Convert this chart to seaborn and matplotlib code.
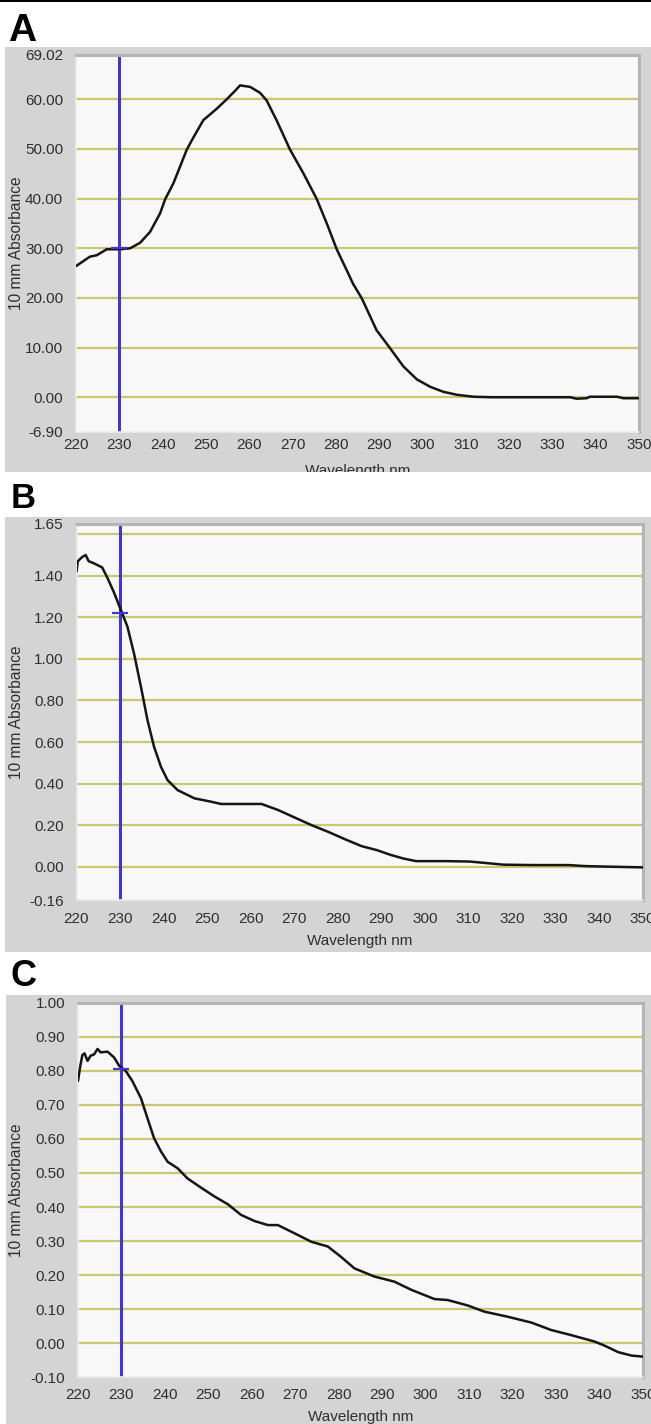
"""Three stacked UV absorbance spectra (panels A, B, C) with a cursor at 230 nm."""

import matplotlib
matplotlib.use("Agg")
import matplotlib.pyplot as plt
from matplotlib.patches import Rectangle
import pandas as pd
import seaborn as sns

W, H = 651, 1424

# ---- data ----
wavelength_a = [220, 221.5, 223.2, 224.8, 227.1, 230.2, 232.5, 234.8, 237.1, 239.4, 240.6,
                242.5, 245.6, 247.1, 249.4, 252.5, 254.8, 256.5, 257.9, 260.2, 262.5, 264.0,
                266.3, 269.4, 272.5, 275.6, 278.0, 280.2, 282.5, 284.0, 286.0, 289.4, 292.5,
                295.6, 298.7, 301.8, 304.8, 307.9, 311.8, 316.0, 324.8, 334.1, 335.6, 337.9,
                338.7, 344.9, 346.4, 350]
absorbance_a = [26.4, 27.3, 28.3, 28.6, 29.8, 29.8, 30.0, 31.1, 33.3, 37.0, 39.9,
                43.1, 49.9, 52.3, 55.8, 58.1, 60.0, 61.5, 62.8, 62.5, 61.3, 59.8,
                55.8, 49.9, 45.1, 39.9, 34.8, 29.8, 25.6, 22.8, 19.9, 13.5, 9.9,
                6.2, 3.6, 2.1, 1.1, 0.5, 0.1, 0.0, 0.0, 0.0, -0.3, -0.2,
                0.1, 0.1, -0.2, -0.2]

wavelength_b = [220, 220.3, 221.3, 222.1, 222.8, 224.0, 225.9, 227.1, 228.6, 230.2, 231.7,
                233.2, 234.8, 236.3, 237.8, 239.4, 240.9, 243.2, 247.1, 250.9, 253.2, 258.6,
                262.5, 266.3, 270.2, 274.0, 277.8, 281.7, 285.5, 289.0, 292.0, 295.0, 298.0,
                305.0, 310.3, 314.0, 318.0, 325.0, 333.0, 337.0, 343.0, 350]
absorbance_b = [1.42, 1.47, 1.49, 1.50, 1.47, 1.46, 1.44, 1.39, 1.32, 1.235, 1.155,
                1.027, 0.866, 0.706, 0.578, 0.481, 0.417, 0.369, 0.329, 0.313, 0.302, 0.302,
                0.302, 0.273, 0.236, 0.200, 0.168, 0.132, 0.099, 0.080, 0.058, 0.040, 0.027,
                0.027, 0.025, 0.018, 0.010, 0.008, 0.008, 0.003, 0.000, -0.003]

wavelength_c = [220, 220.5, 221, 221.5, 222.2, 222.9, 223.7, 224.5, 225.2, 226.8, 228.3,
                229.5, 231, 232.5, 234.5, 236, 237.5, 239.1, 240.6, 242.9, 245.2, 248.3,
                251.4, 254.5, 257.5, 260.6, 263.7, 266, 269.8, 273.7, 277.5, 280.5, 283.6,
                288.2, 292.8, 296.7, 302, 305.1, 309.7, 313.5, 318.9, 324.3, 328.9, 333.5,
                338.9, 341.2, 344.3, 347.4, 350]
absorbance_c = [0.77, 0.812, 0.846, 0.851, 0.829, 0.844, 0.848, 0.864, 0.854, 0.856, 0.839,
                0.814, 0.799, 0.770, 0.719, 0.660, 0.602, 0.563, 0.533, 0.514, 0.484, 0.457,
                0.431, 0.408, 0.377, 0.359, 0.347, 0.347, 0.323, 0.298, 0.284, 0.254, 0.220,
                0.196, 0.181, 0.157, 0.130, 0.127, 0.111, 0.093, 0.078, 0.061, 0.039, 0.024,
                0.005, -0.007, -0.026, -0.036, -0.039]

x_ticks = [220, 230, 240, 250, 260, 270, 280, 290, 300, 310, 320, 330, 340, 350]

y_ticks_a = [69.02, 60, 50, 40, 30, 20, 10, 0, -6.90]
y_labels_a = ["69.02", "60.00", "50.00", "40.00", "30.00", "20.00", "10.00", "0.00", "-6.90"]
grid_a = [60, 50, 40, 30, 20, 10, 0]

y_ticks_b = [1.65, 1.60, 1.40, 1.20, 1.00, 0.80, 0.60, 0.40, 0.20, 0.00, -0.16]
y_labels_b = ["1.65", "", "1.40", "1.20", "1.00", "0.80", "0.60", "0.40", "0.20", "0.00", "-0.16"]
grid_b = [1.60, 1.40, 1.20, 1.00, 0.80, 0.60, 0.40, 0.20, 0.00]

y_ticks_c = [1.00, 0.90, 0.80, 0.70, 0.60, 0.50, 0.40, 0.30, 0.20, 0.10, 0.00, -0.10]
y_labels_c = ["1.00", "0.90", "0.80", "0.70", "0.60", "0.50", "0.40", "0.30", "0.20",
              "0.10", "0.00", "-0.10"]
grid_c = [0.90, 0.80, 0.70, 0.60, 0.50, 0.40, 0.30, 0.20, 0.10, 0.00]

cursor_nm = 230
cursor_a = 30.0
cursor_b = 1.222
cursor_c = 0.805

# ---- style ----
PANEL_GREY = "#d4d4d4"
PLOT_BG = "#f8f8f8"
GRID_COLOR = "#c8c872"
CURSOR_BLUE = "#4536cc"
TEXT_COLOR = "#2e2e2e"


def fx(px):
    return px / W


def fy(py):
    return 1 - py / H


def draw_panel(fig, letter, letter_size, letter_pos, grey_box, ax_box, xlabel_y,
               x_len, x_pad, wl, vals, ylim, yticks, ylabels, grid, cursor_y):
    gx0, gy0, gx1, gy1 = grey_box
    grey = Rectangle((fx(gx0), fy(gy1)), fx(gx1 - gx0), (gy1 - gy0) / H,
                     transform=fig.transFigure, facecolor=PANEL_GREY,
                     edgecolor="none", zorder=-5)
    fig.patches.append(grey)

    fig.text(fx(letter_pos[0]), fy(letter_pos[1]), letter, fontsize=letter_size,
             fontweight="bold", ha="left", va="baseline", color="black")

    x0, y0, x1, y1 = ax_box
    ax = fig.add_axes([fx(x0), fy(y1), fx(x1 - x0), (y1 - y0) / H])
    ax.set_facecolor(PLOT_BG)

    for g in grid:
        ax.axhline(g, color=GRID_COLOR, linewidth=1.6, zorder=1)

    ax.axvline(cursor_nm, color=CURSOR_BLUE, linewidth=2.2, zorder=2)

    df = pd.DataFrame({"Wavelength": wl, "Absorbance": vals})
    sns.lineplot(data=df, x="Wavelength", y="Absorbance", ax=ax, color="#151515",
                 linewidth=1.8, estimator=None, sort=False, zorder=3)

    ax.plot([cursor_nm], [cursor_y], marker="_", markersize=11, markeredgewidth=1.6,
            color=CURSOR_BLUE, zorder=4)

    ax.set_xlim(220, 350)
    ax.set_ylim(*ylim)
    ax.set_xticks(x_ticks)
    ax.set_xticklabels([str(t) for t in x_ticks])
    ax.set_yticks(yticks)
    ax.set_yticklabels(ylabels)
    ax.set_xlabel("")
    ax.set_ylabel("")
    ax.grid(False)

    ax.tick_params(axis="x", length=x_len, width=1, color="#555555", pad=x_pad,
                   labelsize=11, labelcolor=TEXT_COLOR)
    ax.tick_params(axis="y", length=4.3, width=1, color="#555555", pad=5,
                   labelsize=11, labelcolor=TEXT_COLOR)

    for side in ["top", "right"]:
        ax.spines[side].set_color("#b4b4b4")
        ax.spines[side].set_linewidth(2.2)
    for side in ["left", "bottom"]:
        ax.spines[side].set_color("#ececec")
        ax.spines[side].set_linewidth(1.2)

    fig.text(fx(17), fy((y0 + y1) / 2), "10 mm Absorbance", rotation=90,
             ha="center", va="center", fontsize=11.2, color=TEXT_COLOR)
    xl = fig.text(fx((x0 + x1) / 2), fy(xlabel_y), "Wavelength nm", ha="center",
                  va="center", fontsize=11, color=TEXT_COLOR)
    xl.set_clip_path(grey)
    return ax


def main():
    sns.set_theme(style="white")
    plt.rcParams["font.family"] = ["Liberation Sans", "DejaVu Sans"]
    plt.rcParams["axes.unicode_minus"] = False

    fig = plt.figure(figsize=(W / 100, H / 100), dpi=100)
    fig.patch.set_facecolor("white")
    fig.patches.append(Rectangle((0, fy(2)), 1, 2 / H, transform=fig.transFigure,
                                 facecolor="black", edgecolor="none", zorder=-4))

    draw_panel(fig, "A", 28, (8, 41), (5, 47, 651, 472), (76, 54.5, 639, 431.5), 471,
               2.5, 2.0, wavelength_a, absorbance_a, (-6.90, 69.02),
               y_ticks_a, y_labels_a, grid_a, cursor_a)
    draw_panel(fig, "B", 25, (11, 508), (5, 517, 651, 952), (76.5, 523.8, 642.5, 900), 941,
               4.3, 4.3, wavelength_b, absorbance_b, (-0.16, 1.65),
               y_ticks_b, y_labels_b, grid_b, cursor_b)
    draw_panel(fig, "C", 26, (11, 986), (6, 995, 651, 1424), (78, 1002.6, 643, 1377.4), 1417,
               4.0, 3.6, wavelength_c, absorbance_c, (-0.10, 1.00),
               y_ticks_c, y_labels_c, grid_c, cursor_c)

    fig.savefig("out.png", dpi=100, facecolor="white")
    plt.close(fig)


if __name__ == "__main__":
    main()
